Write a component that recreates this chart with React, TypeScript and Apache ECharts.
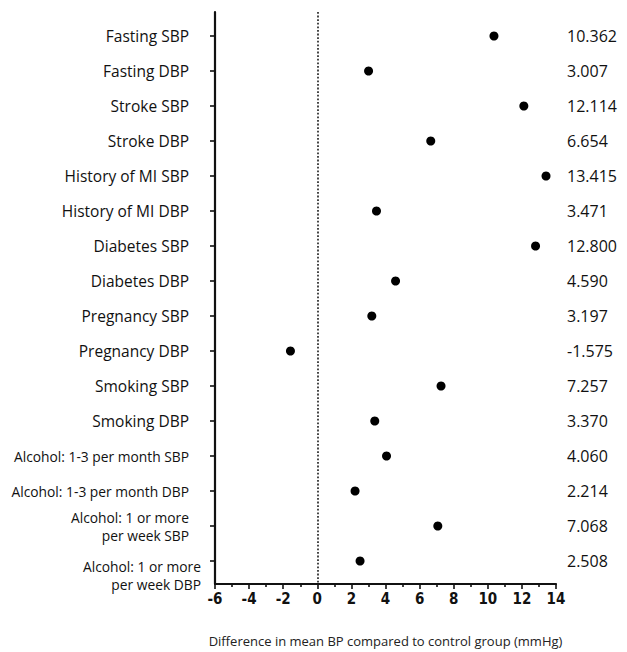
import React, { useEffect, useRef } from "react";
import * as echarts from "echarts";

const categories: string[] = [
  "Fasting SBP",
  "Fasting DBP",
  "Stroke SBP",
  "Stroke DBP",
  "History of MI SBP",
  "History of MI DBP",
  "Diabetes SBP",
  "Diabetes DBP",
  "Pregnancy SBP",
  "Pregnancy DBP",
  "Smoking SBP",
  "Smoking DBP",
  "Alcohol: 1-3 per month SBP",
  "Alcohol: 1-3 per month DBP",
  "Alcohol: 1 or more\nper week SBP",
  "Alcohol: 1 or more\nper week DBP",
];

const values: number[] = [
  10.362, 3.007, 12.114, 6.654, 13.415, 3.471, 12.8, 4.59, 3.197, -1.575,
  7.257, 3.37, 4.06, 2.214, 7.068, 2.508,
];

const xTicks = { min: -6, max: 14, interval: 2 };
const axisTitle = "Difference in mean BP compared to control group (mmHg)";

export default function App() {
  const ref = useRef<HTMLDivElement>(null);
  useEffect(() => {
    if (!ref.current) return;
    const chart = echarts.init(ref.current, undefined, { renderer: "svg" });
    const idx = categories.map((_, i) => i);
    const last = categories.length - 1;
    const yMin = -0.686;
    const yMax = 15.657;
    const catFormatter = (v: number) => {
      const i = Math.round(v);
      const name = categories[i] ?? "";
      const tag = i === last ? "b" : i >= 12 ? "s" : "n";
      return name
        .split("\n")
        .map((l) => `{${tag}|${l}}`)
        .join("\n");
    };
    const rich = {
      n: { fontSize: 15.5, fontFamily: "Open Sans", color: "#111", lineHeight: 18 },
      s: { fontSize: 13.8, fontFamily: "Open Sans", color: "#111", lineHeight: 18 },
      b: { fontSize: 13.8, fontFamily: "Open Sans", color: "#111", lineHeight: 18, padding: [28, 0, 0, 0] },
    };
    const hiddenLine = { show: false, onZero: false };
    chart.setOption({
      animation: false,
      backgroundColor: "#ffffff",
      grid: { left: 215, top: 12, width: 341, bottom: 68 },
      xAxis: {
        type: "value",
        min: xTicks.min,
        max: xTicks.max,
        interval: xTicks.interval,
        axisLine: { show: true, onZero: false, lineStyle: { color: "#111", width: 2.2 } },
        axisTick: { show: true, length: 5, lineStyle: { color: "#111", width: 1.6 } },
        minorTick: { show: true, splitNumber: 2, length: 3, lineStyle: { color: "#111", width: 1.6 } },
        splitLine: { show: false },
        axisLabel: {
          color: "#111",
          fontSize: 15,
          fontWeight: "bold",
          fontFamily: "DejaVu Sans Condensed",
          margin: 7,
        },
        name: axisTitle,
        nameLocation: "middle",
        nameGap: 50,
        nameTextStyle: { color: "#222", fontSize: 13, fontFamily: "Open Sans" },
      },
      yAxis: [
        {
          type: "value",
          inverse: true,
          min: yMin,
          max: yMax,
          axisLine: { show: true, onZero: false, lineStyle: { color: "#111", width: 2.2 } },
          axisTick: { show: true, length: 5, customValues: idx, lineStyle: { color: "#111", width: 1.6 } },
          splitLine: { show: false },
          axisLabel: {
            customValues: idx.slice(0, last),
            margin: 26,
            hideOverlap: false,
            formatter: catFormatter,
            rich,
          },
        },
        {
          type: "value",
          inverse: true,
          min: yMin,
          max: yMax,
          position: "right",
          axisLine: hiddenLine,
          axisTick: { show: false },
          splitLine: { show: false },
          axisLabel: {
            customValues: idx,
            margin: 11,
            hideOverlap: false,
            color: "#111",
            fontSize: 16,
            fontFamily: "Open Sans",
            formatter: (v: number) => {
              const i = Math.round(v);
              return values[i] !== undefined ? values[i].toFixed(3) : "";
            },
          },
        },
        {
          type: "value",
          inverse: true,
          min: yMin,
          max: yMax,
          position: "left",
          axisLine: hiddenLine,
          axisTick: { show: false },
          splitLine: { show: false },
          axisLabel: {
            customValues: [last],
            margin: 14,
            formatter: catFormatter,
            rich,
          },
        },
      ],
      series: [
        {
          type: "scatter",
          xAxisIndex: 0,
          yAxisIndex: 0,
          symbol: "circle",
          symbolSize: 9,
          itemStyle: { color: "#000", opacity: 1 },
          data: values.map((v, i) => [v, i]),
          markLine: {
            silent: true,
            symbol: "none",
            label: { show: false },
            lineStyle: { type: "dotted", color: "#333", width: 1.8 },
            data: [{ xAxis: 0 }],
          },
        },
      ],
    });
    return () => chart.dispose();
  }, []);
  return (
    <div
      ref={ref}
      style={{ position: "fixed", left: 0, top: 0, width: 627, height: 652 }}
    />
  );
}
